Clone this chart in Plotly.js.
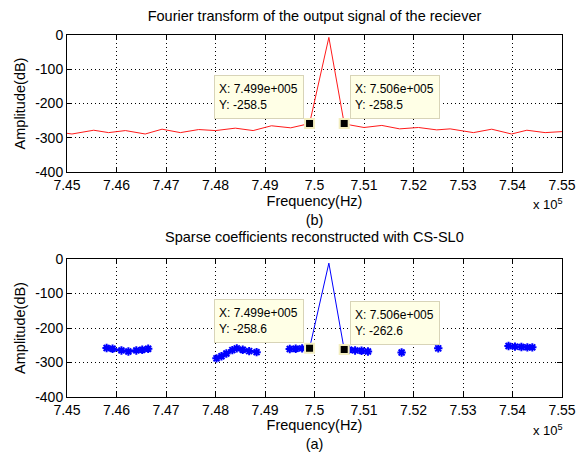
<!DOCTYPE html>
<html>
<head>
<meta charset="utf-8">
<script src="https://cdn.plot.ly/plotly-3.0.1.min.js"></script>
<style>
  html, body { margin: 0; padding: 0; background: #fff; }
  #chart { width: 582px; height: 452px; }
</style>
</head>
<body>
<div id="chart"></div>
<script>
// ---- data (frequency in Hz, amplitude in dB) ----
const topFreq = [745000, 745100, 745540, 745840, 746180, 746580, 746920, 747290, 747660, 748000,
                 748400, 748760, 749130, 749520, 749900, 750290, 750600, 750730, 751000, 751360,
                 751720, 752100, 752470, 752740, 753210, 753580, 753980, 754290, 754660, 755000];
const topAmp  = [-287, -289, -278, -285, -279, -289, -275, -285, -276, -279,
                 -272, -279, -265, -271, -258.5, -7, -258.5, -263, -270, -264,
                 -274, -270, -277, -274, -285, -275, -289, -278, -285, -282];

const botFreq = [745800, 745920, 746100, 746240, 746400, 746520, 746640, null,
                 748020, 748120, 748220, 748340, 748430, 748550, 748680, 748830, null,
                 749500, 749620, 749750, 749900, null,
                 750600, 750700, 750820, 750950, 751080, null,
                 751760, null,
                 752500, null,
                 753920, 754050, 754180, 754300, 754400];
const botAmp  = [-258, -260, -265, -268, -265, -263, -260, null,
                 -288, -282, -274, -264, -259, -263, -267, -270, null,
                 -261, -260, -259, -258.6, null,
                 -262.6, -263, -265, -266, -268, null,
                 -271, null,
                 -259, null,
                 -252, -254, -255, -256, -256];

const peakFreq = [749900, 750290, 750600];
const peakAmp  = [-258.6, -12, -262.6];

const tipTopFreq = [749900, 750600];
const tipTopAmp  = [-258.5, -258.5];
const tipBotFreq = [749900, 750600];
const tipBotAmp  = [-258.6, -262.6];

const xTickVals   = [745000, 746000, 747000, 748000, 749000, 750000, 751000, 752000, 753000, 754000, 755000];
const xTickLabels = ['7.45', '7.46', '7.47', '7.48', '7.49', '7.5', '7.51', '7.52', '7.53', '7.54', '7.55'];
const yTickVals   = [-400, -300, -200, -100, 0];
const yTickLabels = ['-400', '-300', '-200', '-100', '0'];

const topTitle = 'Fourier transform of the output signal of the reciever';
const botTitle = 'Sparse coefficients reconstructed with CS-SL0';
const xTitleTop = 'Frequency(Hz)<br>(b)';
const xTitleBot = 'Frequency(Hz)<br>(a)';
const yTitle = 'Amplitude(dB)';
const expLabel = 'x 10<sup>5</sup>';

// ---- helpers ----
const FONT = 'Liberation Sans, Arial, Helvetica, sans-serif';
function matlabExp(v) {
  return v.toExponential(3).replace(/e([+-])(\d+)/, (m, s, d) => 'e' + s + d.padStart(3, '0'));
}
function tipText(x, y) { return 'X: ' + matlabExp(x) + '<br>Y: ' + y.toFixed(1); }

function xAxis(anchor, title) {
  return {
    anchor: anchor, range: [745000, 755000], tickvals: xTickVals, ticktext: xTickLabels,
    ticks: 'inside', ticklen: 5, tickcolor: '#000', mirror: 'ticks',
    showline: true, linecolor: '#000', linewidth: 1,
    showgrid: true, gridcolor: '#000', gridwidth: 1, griddash: '1px,3px',
    zeroline: false, tickfont: {family: FONT, size: 14, color: '#000'},
    title: {text: title, font: {family: FONT, size: 14.5, color: '#000'}, standoff: 3},
    fixedrange: true
  };
}
function yAxis(anchor, domain) {
  return {
    anchor: anchor, domain: domain, range: [-400, 0], tickvals: yTickVals, ticktext: yTickLabels,
    ticks: 'inside', ticklen: 5, tickcolor: '#000', mirror: 'ticks',
    showline: true, linecolor: '#000', linewidth: 1,
    showgrid: true, gridcolor: '#000', gridwidth: 1, griddash: '1px,3px',
    zeroline: false, tickfont: {family: FONT, size: 14, color: '#000'},
    title: {text: yTitle, font: {family: FONT, size: 14.5, color: '#000'}, standoff: 6},
    fixedrange: true
  };
}

const tipMarker = {symbol: 'square', size: 9, color: '#000', line: {color: '#f3eec0', width: 2}};

const traces = [
  {x: topFreq, y: topAmp, xaxis: 'x', yaxis: 'y', mode: 'lines',
   line: {color: '#ff1a1a', width: 1}, hoverinfo: 'skip'},
  {x: peakFreq, y: peakAmp, xaxis: 'x2', yaxis: 'y2', mode: 'lines',
   line: {color: '#0000ff', width: 1}, hoverinfo: 'skip'},
  {x: botFreq, y: botAmp, xaxis: 'x2', yaxis: 'y2', mode: 'lines+markers', connectgaps: false,
   line: {color: '#0000ff', width: 2.5},
   marker: {symbol: 'asterisk-open', size: 7, color: '#0000ff', line: {color: '#0000ff', width: 2}},
   hoverinfo: 'skip'},
  {x: tipTopFreq, y: tipTopAmp, xaxis: 'x', yaxis: 'y', mode: 'markers', marker: tipMarker, hoverinfo: 'skip'},
  {x: tipBotFreq, y: tipBotAmp, xaxis: 'x2', yaxis: 'y2', mode: 'markers', marker: tipMarker, hoverinfo: 'skip'}
];

function tipAnn(x, y, xr, yr, side) {
  return {
    x: x, y: y, xref: xr, yref: yr, showarrow: false,
    text: tipText(x, y), align: 'left',
    xanchor: side === 'left' ? 'right' : 'left', yanchor: 'bottom',
    xshift: side === 'left' ? -6 : 6, yshift: 5,
    width: 80, height: 34, borderpad: 4, borderwidth: 1,
    bordercolor: '#d8d4b8', bgcolor: '#ffffe6',
    font: {family: FONT, size: 12, color: '#000'}
  };
}

const annotations = [
  tipAnn(tipTopFreq[0], tipTopAmp[0], 'x', 'y', 'left'),
  tipAnn(tipTopFreq[1], tipTopAmp[1], 'x', 'y', 'right'),
  tipAnn(tipBotFreq[0], tipBotAmp[0], 'x2', 'y2', 'left'),
  tipAnn(tipBotFreq[1], tipBotAmp[1], 'x2', 'y2', 'right'),
  {text: botTitle, xref: 'paper', yref: 'paper', x: 0.5, y: 0.442, xanchor: 'center', yanchor: 'middle',
   showarrow: false, font: {family: FONT, size: 14.5, color: '#000'}},
  {text: expLabel, xref: 'paper', yref: 'paper', x: 1.006, y: 0.533, xanchor: 'right', yanchor: 'middle',
   showarrow: false, font: {family: FONT, size: 13, color: '#000'}},
  {text: expLabel, xref: 'paper', yref: 'paper', x: 1.006, y: -0.0912, xanchor: 'right', yanchor: 'middle',
   showarrow: false, font: {family: FONT, size: 13, color: '#000'}}
];

const layout = {
  width: 582, height: 452,
  margin: {l: 67, r: 20, t: 35, b: 55, pad: 0},
  paper_bgcolor: '#fff', plot_bgcolor: '#fff',
  showlegend: false,
  title: {text: topTitle, font: {family: FONT, size: 14.5, color: '#000'},
          xref: 'paper', x: 0.5, xanchor: 'center', yref: 'container', y: 0.9646, yanchor: 'middle'},
  xaxis: xAxis('y', xTitleTop),
  yaxis: yAxis('x', [0.6215, 1]),
  xaxis2: xAxis('y2', xTitleBot),
  yaxis2: yAxis('x2', [0, 0.3812]),
  annotations: annotations
};

Plotly.newPlot('chart', traces, layout, {staticPlot: true, displayModeBar: false});
</script>
</body>
</html>
